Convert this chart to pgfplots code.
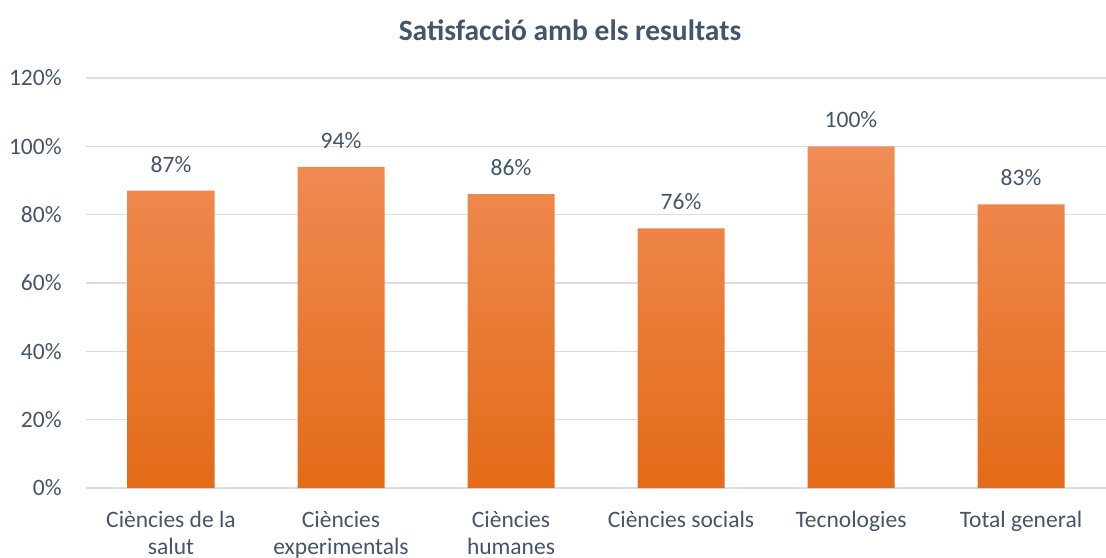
\documentclass[border=0pt]{standalone}
\usepackage{pgfplots}
\pgfplotsset{compat=1.18}
\usepackage{fontspec}
\setmainfont{Carlito}
\definecolor{txt}{HTML}{44546A}
\definecolor{gridc}{HTML}{D9DEE6}
\definecolor{btop}{HTML}{F08C55}
\definecolor{bmid}{HTML}{F47E2C}
\definecolor{bbot}{HTML}{E36B18}
\begin{document}
\begin{tikzpicture}
\useasboundingbox (0,0) rectangle (553bp,279bp);
\node[font=\bfseries\fontsize{14.8}{17}\selectfont, text=txt] at (285bp,264bp) {Satisfacció amb els resultats};
\begin{axis}[
  at={(43bp,35bp)}, anchor=south west,
  scale only axis, width=510bp, height=205bp,
  xmin=-0.5, xmax=5.5, ymin=0, ymax=120,
  ytick={0,20,40,60,80,100,120},
  yticklabel={\pgfmathprintnumber{\tick}\%},
  /pgf/number format/assume math mode=true,
  xtick={0,1,2,3,4,5},
  xticklabels={{Ciències de la\\salut},{Ciències\\experimentals},{Ciències\\humanes},{Ciències socials},{Tecnologies},{Total general}},
  xticklabel style={align=center, inner sep=0pt, yshift=-11.5bp, text=txt, font=\fontsize{11.8}{13.5}\selectfont},
  yticklabel style={inner sep=0pt, xshift=-12bp, text=txt, font=\fontsize{11.8}{13.5}\selectfont},
  major tick length=0pt,
  axis line style={draw=none},
  xmajorgrids=false, ymajorgrids=true,
  major grid style={draw=gridc, line width=0.75bp},
  ybar, bar width=43.5bp,
  nodes near coords={\pgfmathprintnumber{\pgfplotspointmeta}\%},
  nodes near coords style={anchor=south, inner sep=0pt, yshift=9bp, text=txt, font=\fontsize{11.8}{13.5}\selectfont, /pgf/number format/assume math mode=true},
  clip=false,
]
\addplot[draw=none, top color=btop, middle color=bmid, bottom color=bbot] coordinates {(0,87) (1,94) (2,86) (3,76) (4,100) (5,83)};
\end{axis}
\end{tikzpicture}
\end{document}
